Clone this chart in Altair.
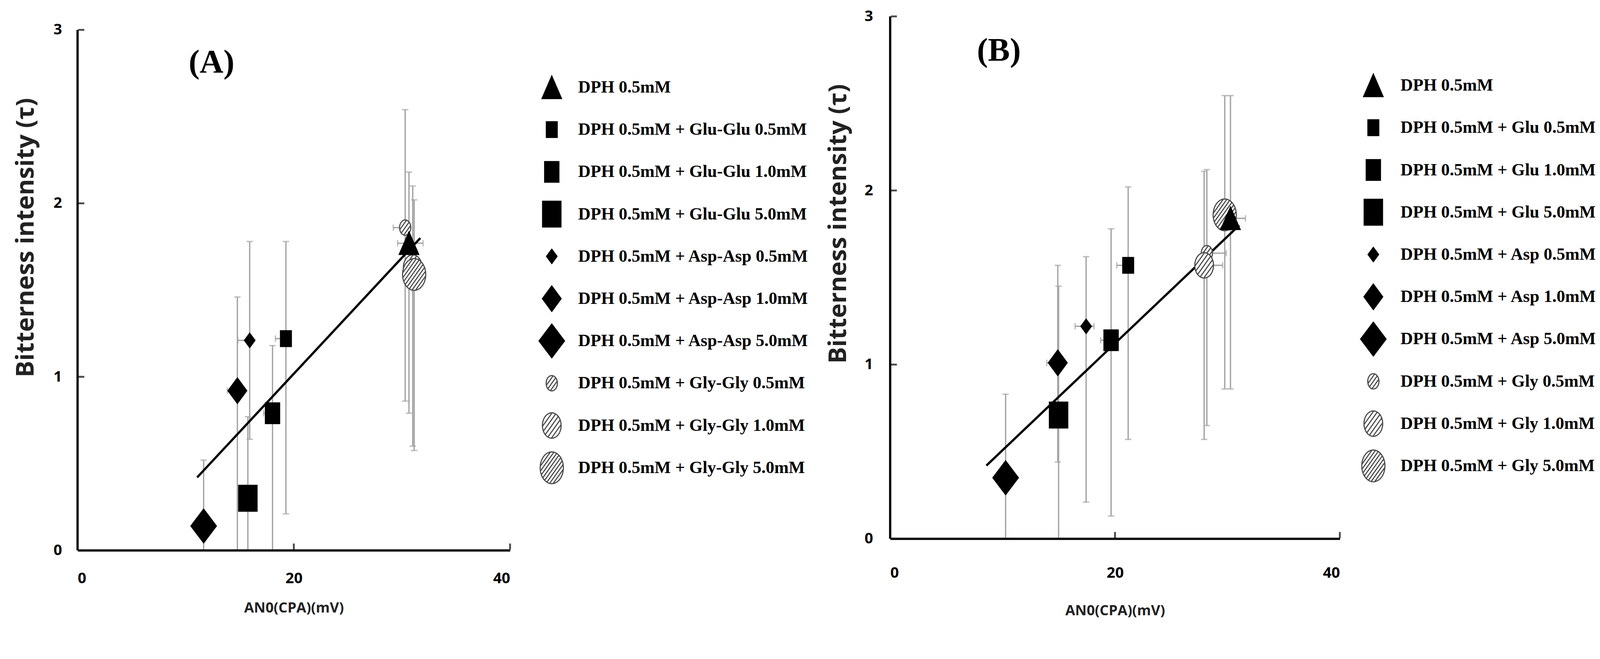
import math
import altair as alt
import pandas as pd

# ---------------- data ----------------
labels_A = [
    "DPH 0.5mM",
    "DPH 0.5mM + Glu-Glu 0.5mM",
    "DPH 0.5mM + Glu-Glu 1.0mM",
    "DPH 0.5mM + Glu-Glu 5.0mM",
    "DPH 0.5mM + Asp-Asp 0.5mM",
    "DPH 0.5mM + Asp-Asp 1.0mM",
    "DPH 0.5mM + Asp-Asp 5.0mM",
    "DPH 0.5mM + Gly-Gly 0.5mM",
    "DPH 0.5mM + Gly-Gly 1.0mM",
    "DPH 0.5mM + Gly-Gly 5.0mM",
]
labels_B = [
    "DPH 0.5mM",
    "DPH 0.5mM + Glu 0.5mM",
    "DPH 0.5mM + Glu 1.0mM",
    "DPH 0.5mM + Glu 5.0mM",
    "DPH 0.5mM + Asp 0.5mM",
    "DPH 0.5mM + Asp 1.0mM",
    "DPH 0.5mM + Asp 5.0mM",
    "DPH 0.5mM + Gly 0.5mM",
    "DPH 0.5mM + Gly 1.0mM",
    "DPH 0.5mM + Gly 5.0mM",
]

# Panel A
x_A = [30.65, 19.27, 18.03, 15.75, 15.92, 14.78, 11.66, 30.30, 31.00, 31.13]
y_A = [1.77, 1.22, 0.79, 0.30, 1.21, 0.92, 0.14, 1.86, 1.63, 1.59]
ylo_A = [0.79, 0.21, 0.00, 0.00, 0.64, 0.00, 0.00, 0.86, 0.60, 0.575]
yhi_A = [2.18, 1.78, 1.18, 0.77, 1.78, 1.46, 0.52, 2.54, 2.10, 2.02]
xlo_A = [29.60, 18.30, 17.20, 15.75, 14.82, 13.85, 11.66, 29.20, 31.00, 31.13]
xhi_A = [31.95, 19.27, 18.03, 15.75, 15.92, 14.78, 11.66, 30.30, 31.00, 31.13]
fitx_A = [11.06, 31.70]
fity_A = [0.42, 1.80]

# Panel B
x_B = [30.27, 21.17, 19.65, 14.98, 17.43, 14.91, 10.27, 28.17, 27.93, 29.76]
y_B = [1.84, 1.57, 1.14, 0.71, 1.22, 1.01, 0.35, 1.64, 1.57, 1.86]
ylo_B = [0.86, 0.57, 0.13, 0.00, 0.21, 0.44, 0.00, 0.65, 0.57, 0.86]
yhi_B = [2.545, 2.02, 1.78, 1.45, 1.62, 1.57, 0.83, 2.12, 2.11, 2.545]
xlo_B = [28.94, 20.16, 18.72, 14.98, 16.45, 13.93, 10.27, 28.17, 27.93, 29.76]
xhi_B = [31.60, 21.17, 19.65, 14.98, 18.13, 14.91, 10.27, 29.90, 29.57, 29.76]
fitx_B = [8.56, 31.05]
fity_B = [0.42, 1.80]

x_ticks = [0, 20, 40]
y_ticks = [0, 1, 2, 3]

# ---------------- marker styling (symbol paths, drawn at size 10000 -> 1 unit = 50 px) ----------------
def rect_path(w, h):
    a, b = w / 100, h / 100
    return f"M{-a:.3f},{-b:.3f} L{a:.3f},{-b:.3f} L{a:.3f},{b:.3f} L{-a:.3f},{b:.3f} Z"


def diamond_path(w, h):
    a, b = w / 100, h / 100
    return f"M0,{-b:.3f} L{a:.3f},0 L0,{b:.3f} L{-a:.3f},0 Z"


def triangle_path(w, h):
    a, b = w / 100, h / 100
    return f"M0,{-b:.3f} L{a:.3f},{b:.3f} L{-a:.3f},{b:.3f} Z"


def ellipse_hatch(w, h, n, k=1.4, npts=48):
    rx, ry = w / 100, h / 100
    pts = []
    for i in range(npts):
        t = 2 * math.pi * i / npts
        pts.append(f"{rx * math.cos(t):.3f},{ry * math.sin(t):.3f}")
    p = "M" + " L".join(pts) + " Z"
    cmax = math.sqrt(ry * ry + k * k * rx * rx) / k
    for i in range(n):
        c = -cmax + (i + 1) * 2 * cmax / (n + 1)
        a = 1 / rx ** 2 + k * k / ry ** 2
        b = -2 * k * k * c / ry ** 2
        cc = k * k * c * c / ry ** 2 - 1
        sq = math.sqrt(max(b * b - 4 * a * cc, 0))
        x1 = (-b - sq) / (2 * a)
        x2 = (-b + sq) / (2 * a)
        p += f" M{x1:.3f},{k * (c - x1):.3f} L{x2:.3f},{k * (c - x2):.3f}"
    return p


shapes = [
    triangle_path(52, 60),
    rect_path(29, 42), rect_path(38, 55), rect_path(49, 69),
    diamond_path(28, 38), diamond_path(50, 68), diamond_path(68, 90),
    ellipse_hatch(30, 41, 3), ellipse_hatch(50, 68, 5), ellipse_hatch(62, 85, 8),
]
fills = ["black"] * 7 + ["white"] * 3
strokes = ["black"] * 7 + ["#4a4a4a"] * 3
draw_order = [9, 1, 2, 3, 4, 5, 6, 7, 8, 8.5]

ERR = "#a3a3a3"
SANS = "Open Sans"
SERIF = "Liberation Serif"


def panel(labels, xs, ys, ylo, yhi, xlo, xhi, fitx, fity, tag, tag_xy,
          width, height, ytop, ytitle_x, ytitle_y, ylabpad, xlabpad, xtitlepad,
          leg_x, leg_y, leg_laboff):
    df = pd.DataFrame(dict(series=labels, x=xs, y=ys, ylo=ylo, yhi=yhi,
                           xlo=xlo, xhi=xhi, z=draw_order))
    fit = pd.DataFrame(dict(x=fitx, y=fity))
    tagdf = pd.DataFrame(dict(x=[tag_xy[0]], y=[tag_xy[1]], t=[tag]))
    yaxis_line = pd.DataFrame(dict(x=[x_ticks[0]], y=[y_ticks[0]], y2=[y_ticks[-1]]))
    ytick_df = pd.DataFrame(dict(x=[x_ticks[0]] * (len(y_ticks) - 1), y=y_ticks[1:]))
    xtick_df = pd.DataFrame(dict(x=x_ticks[1:], y=[y_ticks[0]] * (len(x_ticks) - 1)))

    ax_x = alt.Axis(values=x_ticks, format="d", grid=False, ticks=False,
                    domainColor="black", domainWidth=6, zindex=1,
                    labelFont=SANS, labelFontWeight="bold", labelFontSize=40,
                    labelColor="black", labelPadding=xlabpad,
                    title="AN0(CPA)(mV)", titleFont=SANS, titleFontWeight="bold",
                    titleFontSize=38, titleColor="#222222", titlePadding=xtitlepad)
    ax_y = alt.Axis(values=y_ticks, format="d", grid=False, ticks=False,
                    domain=False, zindex=1,
                    labelFont=SANS, labelFontWeight="bold", labelFontSize=40,
                    labelColor="black", labelPadding=ylabpad,
                    title="Bitterness intensity (\u03c4)", titleFont=SANS,
                    titleFontWeight="bold", titleFontSize=66, titleColor="#222222",
                    titleAngle=270, titleX=ytitle_x, titleY=ytitle_y,
                    titleBaseline="middle", titleAlign="center")
    xs_ = alt.Scale(domain=[0, 40], nice=False, zero=False)
    ys_ = alt.Scale(domain=[0, ytop], nice=False, zero=False)

    def X(f):
        return alt.X(f, type="quantitative", scale=xs_, axis=ax_x)

    def Y(f):
        return alt.Y(f, type="quantitative", scale=ys_, axis=ax_y)

    base = alt.Chart(df)
    err_y = base.mark_rule(color=ERR, strokeWidth=3.5).encode(
        x=X("x"), y=Y("ylo"), y2="yhi")
    cap_top = base.mark_tick(orient="horizontal", color=ERR, size=17,
                             thickness=3.5).encode(x=X("x"), y=Y("yhi"))
    cap_bot = base.transform_filter("datum.ylo > 0.02").mark_tick(
        orient="horizontal", color=ERR, size=17, thickness=3.5).encode(
        x=X("x"), y=Y("ylo"))
    err_x = base.transform_filter("datum.xlo < datum.x || datum.xhi > datum.x").mark_rule(
        color=ERR, strokeWidth=3.5).encode(x=X("xlo"), x2="xhi", y=Y("y"))
    cap_l = base.transform_filter("datum.xlo < datum.x").mark_tick(
        orient="vertical", color=ERR, size=17, thickness=3.5).encode(
        x=X("xlo"), y=Y("y"))
    cap_r = base.transform_filter("datum.xhi > datum.x").mark_tick(
        orient="vertical", color=ERR, size=17, thickness=3.5).encode(
        x=X("xhi"), y=Y("y"))
    line = alt.Chart(fit).mark_line(color="black", strokeWidth=6).encode(
        x=X("x"), y=Y("y"))
    yline = alt.Chart(yaxis_line).mark_rule(color="black", strokeWidth=6).encode(
        x=X("x"), y=Y("y"), y2="y2")
    # inside tick marks, as in the original
    yticks_in = alt.Chart(ytick_df).mark_tick(orient="horizontal", color="black",
                                             size=16, thickness=5, xOffset=10).encode(
        x=X("x"), y=Y("y"))
    xticks_in = alt.Chart(xtick_df).mark_tick(orient="vertical", color="black",
                                             size=16, thickness=5, yOffset=-10).encode(
        x=X("x"), y=Y("y"))

    leg = alt.Legend(title=None, orient="none", legendX=leg_x, legendY=leg_y,
                     direction="vertical", labelFont=SERIF, labelFontWeight="bold",
                     labelFontSize=46, labelColor="black", labelOffset=leg_laboff,
                     labelLimit=0, symbolStrokeWidth=3, symbolOpacity=1,
                     symbolSize=10000, gridAlign="all", rowPadding=10, padding=0,
                     symbolLimit=0)
    pts = base.mark_point(filled=True, opacity=1, strokeWidth=3, size=10000).encode(
        x=X("x"), y=Y("y"),
        shape=alt.Shape("series:N", scale=alt.Scale(domain=labels, range=shapes), legend=leg),
        fill=alt.Fill("series:N", scale=alt.Scale(domain=labels, range=fills), legend=leg),
        stroke=alt.Stroke("series:N", scale=alt.Scale(domain=labels, range=strokes), legend=leg),
        order=alt.Order("z:Q"),
    )
    tagm = alt.Chart(tagdf).mark_text(font=SERIF, fontWeight="bold", fontSize=88,
                                      color="black", align="center",
                                      baseline="middle").encode(
        x=X("x"), y=Y("y"), text="t:N")
    return alt.layer(err_y, cap_top, cap_bot, err_x, cap_l, cap_r, line, yline,
                     yticks_in, xticks_in, pts, tagm
                     ).properties(width=width, height=height)


# panel A: plot area starts 36 px lower than B's (extra head-room above y = 3)
hA = 1391
extraA = 36
pA = panel(labels_A, x_A, y_A, ylo_A, yhi_A, xlo_A, xhi_A, fitx_A, fity_A,
           "(A)", (12.39, 2.81), 1156, hA + extraA, 3 * (hA + extraA) / hA,
           -138, 591, 42, 56, 40, 1216, 138, 19)
pB = panel(labels_B, x_B, y_B, ylo_B, yhi_B, xlo_B, xhi_B, fitx_B, fity_B,
           "(B)", (9.67, 2.80), 1202, 1396, 3,
           -138, 554, 46, 72, 62, 1240, 133, 21)

chart = alt.hconcat(pA, pB, spacing=46).resolve_scale(
    x="independent", y="independent", shape="independent",
    fill="independent", stroke="independent").resolve_legend(
    shape="independent", fill="independent", stroke="independent").properties(
    padding={"left": 28, "top": -20, "right": 0, "bottom": 0},
    background="white").configure_view(stroke=None)

chart.save("out.html", embed_options={"renderer": "svg", "actions": False})
